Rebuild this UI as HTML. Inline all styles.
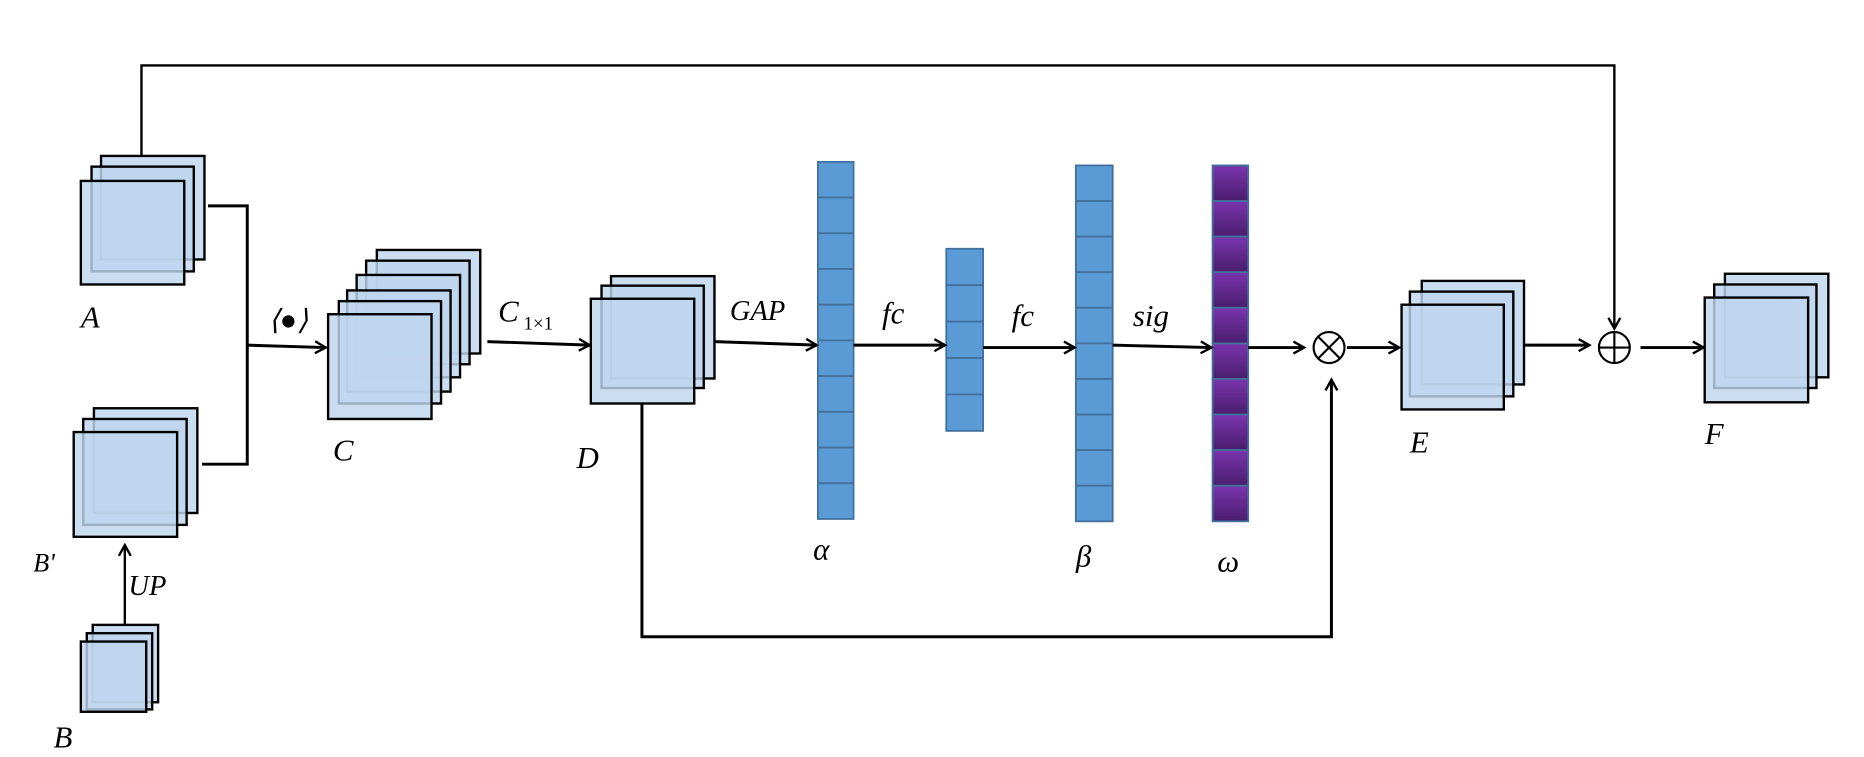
<!DOCTYPE html>
<html><head><meta charset="utf-8"><style>
html,body{margin:0;padding:0;background:#fff;}
svg{display:block;}
text{font-family:"Liberation Serif",serif;font-style:italic;fill:#000;}
</style></head><body>
<svg width="1864" height="757" viewBox="0 0 1568 636" preserveAspectRatio="none">
<defs>
<marker id="ah" markerWidth="12" markerHeight="12" refX="10" refY="6" orient="auto" markerUnits="userSpaceOnUse">
<path d="M1,1 L10,6 L1,11" fill="none" stroke="#000" stroke-width="2"/></marker>
<linearGradient id="pg" x1="0" y1="0" x2="0" y2="1"><stop offset="0" stop-color="#7a35ad"/><stop offset="1" stop-color="#4a1d6e"/></linearGradient>
</defs>
<g id="stacks"></g>
<g id="bars"></g>
<g fill="none" stroke="#000" stroke-width="2">
<polyline points="119,131 119,55 1358,55 1358,276" stroke-width="2" marker-end="url(#ah)"/>
<polyline points="175,173 208,173 208,390 170,390" stroke-width="2.5"/>
<line x1="208" y1="290" x2="274" y2="292" stroke-width="2.5" marker-end="url(#ah)"/>
<line x1="105" y1="525" x2="105" y2="458" marker-end="url(#ah)"/>
<line x1="410" y1="287" x2="496" y2="290" stroke-width="2.5" marker-end="url(#ah)"/>
<line x1="601" y1="287" x2="687" y2="290" stroke-width="2.5" marker-end="url(#ah)"/>
<line x1="718" y1="290" x2="795" y2="290" stroke-width="2.5" marker-end="url(#ah)"/>
<line x1="827" y1="292" x2="904" y2="292" stroke-width="2.5" marker-end="url(#ah)"/>
<line x1="936" y1="290" x2="1019" y2="292" stroke-width="2.5" marker-end="url(#ah)"/>
<line x1="1050" y1="292" x2="1097" y2="292" stroke-width="2.5" marker-end="url(#ah)"/>
<polyline points="540,339 540,535 1120,535 1120,319" stroke-width="2.5" marker-end="url(#ah)"/>
<line x1="1133" y1="292" x2="1177" y2="292" stroke-width="2.5" marker-end="url(#ah)"/>
<line x1="1282" y1="290" x2="1337" y2="290" stroke-width="2.5" marker-end="url(#ah)"/>
<line x1="1380" y1="292" x2="1433" y2="292" stroke-width="2.5" marker-end="url(#ah)"/>
<circle cx="1118" cy="292" r="13" stroke-width="1.8"/>
<line x1="1109" y1="283" x2="1127" y2="301" stroke-width="1.8"/><line x1="1127" y1="283" x2="1109" y2="301" stroke-width="1.8"/>
<circle cx="1358" cy="292" r="13" stroke-width="1.8"/>
<line x1="1345" y1="292" x2="1371" y2="292" stroke-width="1.8"/><line x1="1358" y1="279" x2="1358" y2="305" stroke-width="1.8"/>
</g>
<g font-size="26">
<text x="68" y="275">A</text>
<text x="28" y="480" font-size="22">B'</text>
<text x="108" y="500" font-size="24">UP</text>
<text x="45" y="628">B</text>
<text x="226" y="277" font-style="normal" font-size="24">⟨●⟩</text>
<text x="280" y="387">C</text>
<text x="419" y="270">C<tspan font-size="16" font-style="normal" dx="4" dy="7">1×1</tspan></text>
<text x="485" y="393">D</text>
<text x="614" y="269" font-size="24">GAP</text>
<text x="742" y="272">fc</text>
<text x="851" y="274">fc</text>
<text x="953" y="274">sig</text>
<text x="684" y="470">α</text>
<text x="905" y="476">β</text>
<text x="1024" y="480">ω</text>
<text x="1186" y="380">E</text>
<text x="1434" y="373">F</text>
</g>
</svg>
<script>
const NS="http://www.w3.org/2000/svg";
const stacks=[
 ["stack-a",[[85,131,87,87],[77,140,86,88],[68,152,87,87]]],
 ["stack-b-prime",[[79,343,87,88],[70,352,87,89],[62,363,87,88]]],
 ["stack-b",[[78,525,55,65],[73,532,55,64],[68,539,55,59]]],
 ["stack-c",[[317,210,87,87],[308,219,87,87],[300,231,87,86],[292,244,87,85],[285,253,86,86],[276,264,87,88]]],
 ["stack-d",[[514,232,87,86],[506,240,86,86],[497,251,87,88]]],
 ["stack-e",[[1196,236,86,87],[1186,245,87,88],[1179,256,86,88]]],
 ["stack-f",[[1451,230,87,87],[1442,239,86,87],[1434,250,87,88]]]
];
const sg=document.getElementById('stacks');
stacks.forEach(([name,rs])=>{
 const g=document.createElementNS(NS,'g');
 
 
 rs.forEach(r=>{
  const e=document.createElementNS(NS,'rect');
  e.setAttribute('x',r[0]);e.setAttribute('y',r[1]);e.setAttribute('width',r[2]);e.setAttribute('height',r[3]);
  e.setAttribute('fill','rgba(190,214,238,0.82)');e.setAttribute('stroke','#000');e.setAttribute('stroke-width','2');
  
  
  g.appendChild(e);
 });
 sg.appendChild(g);
});
const bars=[["vector-alpha",688,136,30,300,10,'#5b9bd5'],["vector-fc",796,209,31,153,5,'#5b9bd5'],["vector-beta",905,139,31,299,10,'#5b9bd5'],["vector-omega",1020,139,30,299,10,'url(#pg)']];
const bg=document.getElementById('bars');
bars.forEach(([name,x,y,w,h,n,f])=>{
 const g=document.createElementNS(NS,'g');
 
 
 for(let i=0;i<n;i++){
  const e=document.createElementNS(NS,'rect');
  e.setAttribute('x',x);e.setAttribute('y',y+i*h/n);e.setAttribute('width',w);e.setAttribute('height',h/n);
  e.setAttribute('fill',f);e.setAttribute('stroke','#41719c');e.setAttribute('stroke-width','1.5');
  
  
  g.appendChild(e);
 }
 bg.appendChild(g);
});
</script>
</body></html>
